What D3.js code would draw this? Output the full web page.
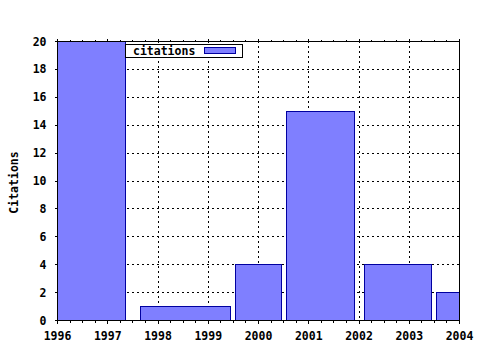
<!DOCTYPE html>
<html><head><meta charset="utf-8">
<script src="https://cdn.jsdelivr.net/npm/d3@7"></script>
<style>
html,body{margin:0;padding:0;background:#fff;}
text{font-family:"DejaVu Sans Mono",monospace;font-weight:bold;font-size:11.5px;fill:#000;}
</style></head>
<body>
<svg id="c" width="480" height="350"></svg>
<script>
// Data
const barFrom = [1995.5, 1997.65, 1999.54, 2000.56, 2002.11, 2003.54];
const barTo   = [1997.35, 1999.44, 2000.46, 2001.92, 2003.45, 2004.5];
const citations = [20, 1, 4, 15, 4, 2];
const xTicks = [1996, 1997, 1998, 1999, 2000, 2001, 2002, 2003, 2004];
const yTicks = [0, 2, 4, 6, 8, 10, 12, 14, 16, 18, 20];
const seriesName = "citations";
const yLabel = "Citations";

(function () {
const svg = d3.select("#c");
const L = 57, R = 459, T = 41, B = 320;
const x = d3.scaleLinear().domain([1996, 2004]).range([L, R]);
const y = d3.scaleLinear().domain([0, 20]).range([B, T]);

svg.append("defs").append("clipPath").attr("id", "clip")
  .append("rect").attr("x", L).attr("y", T).attr("width", R - L).attr("height", B - T);

// grid
const grid = svg.append("g").attr("stroke", "#000").attr("stroke-dasharray", "2,3").attr("shape-rendering", "crispEdges");
xTicks.slice(1, -1).forEach(t => {
  grid.append("line").attr("x1", Math.round(x(t)) + 0.5).attr("x2", Math.round(x(t)) + 0.5)
    .attr("y1", T).attr("y2", B);
});
yTicks.slice(1, -1).forEach(t => {
  grid.append("line").attr("y1", Math.round(y(t)) + 0.5).attr("y2", Math.round(y(t)) + 0.5)
    .attr("x1", L).attr("x2", R);
});

// bars
svg.append("g").attr("clip-path", "url(#clip)").selectAll("rect")
  .data(citations).join("rect")
  .attr("x", (d, i) => Math.round(x(barFrom[i])) + 0.5)
  .attr("width", (d, i) => Math.round(x(barTo[i])) - Math.round(x(barFrom[i])))
  .attr("y", d => Math.round(y(d)) + 0.5)
  .attr("height", d => Math.round(y(0)) - Math.round(y(d)))
  .attr("fill", "#7f7fff").attr("stroke", "#0000a0").attr("stroke-width", 1.2)
  .attr("shape-rendering", "crispEdges");

// frame
svg.append("rect").attr("x", L + 0.5).attr("y", T + 0.5).attr("width", R - L).attr("height", B - T)
  .attr("fill", "none").attr("stroke", "#000").attr("shape-rendering", "crispEdges");

// axes
const xMinor = d3.range(0, 33).map(i => 1996 + i * 0.25);
const gBottom = svg.append("g").attr("transform", `translate(0,${B + 0.5})`)
  .call(d3.axisBottom(x).tickValues(xTicks).tickFormat(d3.format("d")).tickSize(3).tickPadding(8));
const gBottomMinor = svg.append("g").attr("transform", `translate(0,${B + 0.5})`)
  .call(d3.axisBottom(x).tickValues(xMinor).tickFormat("").tickSize(2));
const gTop = svg.append("g").attr("transform", `translate(0,${T + 0.5})`)
  .call(d3.axisTop(x).tickValues(xTicks).tickFormat("").tickSize(3));
const gTopMinor = svg.append("g").attr("transform", `translate(0,${T + 0.5})`)
  .call(d3.axisTop(x).tickValues(xMinor).tickFormat("").tickSize(2));
const gLeft = svg.append("g").attr("transform", `translate(${L + 0.5},0)`)
  .call(d3.axisLeft(y).tickValues(yTicks).tickSize(3).tickPadding(8));
[gBottom, gBottomMinor, gTop, gTopMinor, gLeft].forEach(g => {
  g.select(".domain").remove();
  g.selectAll("line").attr("stroke", "#000").attr("shape-rendering", "crispEdges");
  g.selectAll("text").attr("font-family", null).attr("font-size", null);
});
gBottom.selectAll("text").attr("dy", "0.71em");
gLeft.selectAll("text").attr("dy", "0.35em");

// y label
svg.append("text").attr("transform", `translate(18,${(T + B) / 2 + 2}) rotate(-90)`)
  .attr("text-anchor", "middle").text(yLabel);

// legend
const lg = svg.append("g");
lg.append("rect").attr("x", 125.5).attr("y", 44.5).attr("width", 117).attr("height", 13)
  .attr("fill", "#fff").attr("stroke", "#000").attr("shape-rendering", "crispEdges");
lg.append("text").attr("x", 133).attr("y", 55).text(seriesName);
lg.append("rect").attr("x", 204.5).attr("y", 47.5).attr("width", 31).attr("height", 6)
  .attr("fill", "#7f7fff").attr("stroke", "#0000a0").attr("shape-rendering", "crispEdges");
})();
</script>
</body></html>
